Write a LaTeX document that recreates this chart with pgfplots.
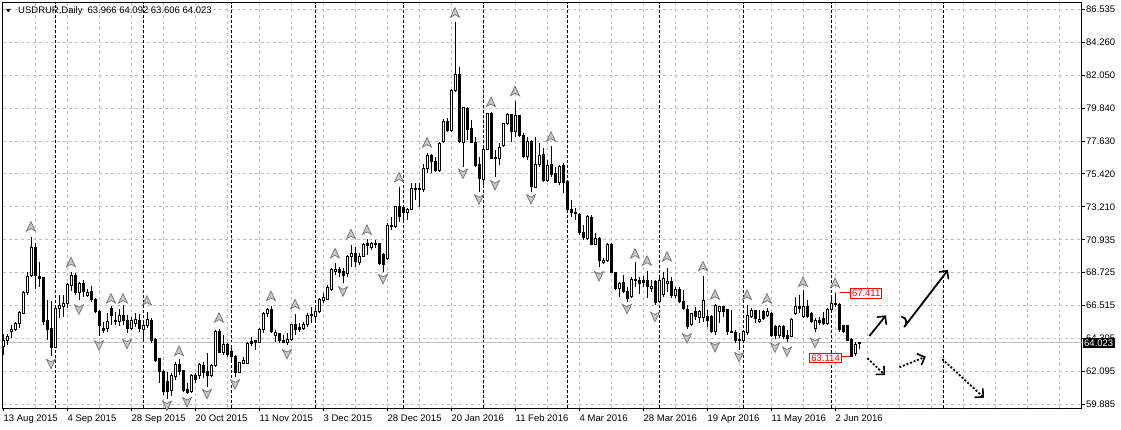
\documentclass[border=0pt]{standalone}
\usepackage{fontspec}
\setmainfont{Liberation Sans}
\usepackage{pgfplots}
\pgfplotsset{compat=1.18}
\usepackage{pgfplotstable}
\usetikzlibrary{arrows.meta}

\newcommand\lab{\fontsize{9.5}{11}\selectfont}
\definecolor{gridc}{HTML}{C0C0C0}

% candle mark: point at (x, close); 14.8197 pt per price unit
\pgfdeclareplotmark{candle}{%
  \pgfmathsetmacro\candH{(\cH-\cC)*14.8197}%
  \pgfmathsetmacro\candL{(\cL-\cC)*14.8197}%
  \pgfmathsetmacro\candO{(\cO-\cC)*14.8197}%
  \pgfmathtruncatemacro\isdoji{abs(\candO)<0.6}%
  \pgfsetlinewidth{1pt}%
  \pgfsetstrokecolor{black}%
  \pgfpathmoveto{\pgfqpoint{0pt}{\candH pt}}%
  \pgfpathlineto{\pgfqpoint{0pt}{\candL pt}}%
  \pgfusepathqstroke
  \ifnum\isdoji=1
    \pgfpathmoveto{\pgfqpoint{-1.5pt}{0pt}}\pgfpathlineto{\pgfqpoint{1.5pt}{0pt}}\pgfusepathqstroke
  \else
    \pgfpathrectanglecorners{\pgfqpoint{-1pt}{0pt}}{\pgfqpoint{1pt}{\candO pt}}%
    \ifdim\candO pt>0pt \pgfsetfillcolor{black}\else\pgfsetfillcolor{white}\fi
    \pgfusepathqfillstroke
  \fi
}
\pgfdeclareplotmark{fup}{%
  \pgfpathmoveto{\pgfqpoint{0pt}{5pt}}%
  \pgfpathlineto{\pgfqpoint{4.5pt}{-4.5pt}}%
  \pgfpathlineto{\pgfqpoint{0pt}{-2pt}}%
  \pgfpathlineto{\pgfqpoint{-4.5pt}{-4.5pt}}%
  \pgfpathclose
  \pgfusepathqfillstroke}
\pgfdeclareplotmark{fdown}{%
  \pgfpathmoveto{\pgfqpoint{0pt}{-5pt}}%
  \pgfpathlineto{\pgfqpoint{4.5pt}{4.5pt}}%
  \pgfpathlineto{\pgfqpoint{0pt}{2pt}}%
  \pgfpathlineto{\pgfqpoint{-4.5pt}{4.5pt}}%
  \pgfpathclose
  \pgfusepathqfillstroke}

\pgfplotstableread{
x o h l c
0 63.77 64.61 63.21 64.22
1 64.22 64.63 63.89 64.49
2 64.78 65.24 64.38 64.95
3 64.95 65.46 64.83 65.35
4 65.35 66.18 65.05 66.09
5 66.03 67.53 65.96 67.44
6 67.44 68.79 67.26 68.54
7 68.56 71.15 68.50 70.45
8 70.45 70.75 67.67 68.56
9 68.54 69.51 67.82 68.39
10 68.43 68.50 65.24 65.46
11 65.51 66.92 64.22 64.90
12 64.97 66.86 63.17 63.70
13 63.70 66.36 63.66 66.32
14 66.36 67.26 65.69 66.54
15 66.47 67.26 65.80 66.70
16 66.70 68.05 66.36 67.94
17 67.89 68.79 67.53 68.61
18 68.61 68.73 67.26 67.44
19 67.44 68.16 66.92 68.05
20 68.05 68.27 67.15 67.48
21 67.26 67.67 67.15 67.42
22 67.53 67.89 66.81 66.99
23 66.99 67.04 66.03 66.18
24 66.18 66.25 64.49 65.19
25 64.97 65.46 64.70 64.88
26 64.97 66.03 64.78 65.46
27 66.32 66.52 65.24 65.91
28 65.55 66.13 65.24 65.46
29 65.46 66.32 65.19 65.91
30 65.91 66.59 65.24 65.57
31 65.57 65.91 64.68 64.97
32 65.01 65.80 64.90 65.57
33 65.35 66.03 65.12 65.64
34 65.57 65.96 64.78 64.97
35 64.95 65.51 64.22 65.17
36 65.17 66.13 65.01 65.64
37 65.57 65.69 64.00 64.22
38 64.29 64.34 62.76 62.87
39 62.99 63.03 61.30 62.09
40 62.13 62.20 60.51 60.78
41 61.41 62.06 60.24 60.78
42 60.80 62.00 60.45 61.86
43 61.75 62.76 61.53 62.54
44 62.54 62.94 61.86 62.09
45 62.15 62.20 60.74 60.80
46 60.90 61.30 60.58 60.67
47 60.72 61.91 60.65 61.86
48 61.82 61.98 61.30 61.57
49 61.86 62.65 61.57 62.54
50 62.47 62.76 61.64 62.02
51 62.09 63.33 61.07 61.86
52 61.86 62.60 61.75 62.49
53 62.47 64.90 62.42 64.78
54 64.78 64.97 63.33 63.37
55 63.37 64.56 63.21 63.89
56 63.89 64.04 63.10 63.26
57 63.48 63.89 62.87 63.10
58 63.14 63.21 61.75 62.02
59 62.02 62.76 61.98 62.69
60 62.65 63.10 62.60 62.87
61 62.65 64.11 62.60 64.00
62 64.11 64.45 63.82 64.00
63 64.16 64.22 63.55 64.07
64 64.04 65.01 64.00 64.95
65 64.95 66.13 64.68 66.03
66 66.03 66.38 65.80 66.25
67 66.25 66.55 64.68 64.78
68 64.56 64.90 64.11 64.72
69 64.63 64.68 64.04 64.18
70 64.22 64.56 64.02 64.04
71 64.07 64.68 63.89 64.27
72 64.27 65.30 64.18 65.28
73 65.28 65.96 64.56 64.90
74 65.05 65.35 64.78 64.95
75 65.01 65.46 64.90 65.28
76 65.30 66.03 65.12 65.91
77 65.86 66.43 65.35 65.96
78 65.84 66.47 65.57 66.18
79 66.18 67.08 66.03 66.97
80 66.92 67.38 66.70 67.11
81 66.97 67.94 66.92 67.75
82 67.60 69.06 67.55 68.95
83 68.86 69.40 68.61 68.95
84 68.95 69.17 68.46 68.77
85 68.83 69.06 68.05 68.61
86 68.73 69.96 68.50 69.85
87 69.85 70.63 69.17 70.07
88 70.07 70.48 69.17 69.51
89 69.44 70.07 69.29 69.85
90 69.89 70.75 69.80 70.68
91 70.75 71.02 69.96 70.57
92 70.48 70.86 70.30 70.75
93 70.68 70.97 70.41 70.75
94 70.75 70.79 69.29 69.40
95 69.96 70.07 68.83 69.35
96 69.74 72.10 69.62 71.92
97 71.87 72.54 71.65 71.98
98 71.87 73.27 71.76 73.22
99 73.22 74.57 72.21 72.54
100 73.18 73.22 72.10 72.81
101 72.84 73.11 72.32 73.04
102 73.04 74.80 73.00 74.46
103 74.46 74.80 73.67 74.35
104 74.39 74.80 73.22 74.46
105 74.35 76.10 74.23 75.81
106 75.81 76.86 75.47 76.64
107 76.64 76.77 75.47 76.26
108 76.26 76.59 75.58 75.65
109 75.65 77.60 75.58 77.45
110 77.60 79.12 77.50 79.00
111 79.00 79.18 78.28 78.35
112 78.35 81.14 78.28 81.09
113 81.09 85.70 80.98 82.17
114 82.17 82.67 77.50 77.60
115 77.54 79.97 75.92 79.90
116 79.86 79.97 77.72 78.44
117 78.51 79.07 77.50 77.54
118 77.54 77.94 75.92 76.03
119 76.10 76.59 74.23 75.14
120 75.07 77.27 74.68 77.09
121 77.09 79.56 77.04 79.52
122 79.52 79.63 76.42 76.48
123 76.55 77.04 75.24 76.44
124 76.48 77.50 76.03 77.20
125 77.38 78.89 77.27 78.85
126 78.85 79.52 78.73 79.41
127 79.41 79.47 77.60 78.28
128 78.28 80.37 77.94 79.34
129 79.34 79.41 77.94 78.03
130 78.03 78.21 76.48 76.59
131 76.59 77.94 76.37 77.60
132 77.60 77.72 74.23 74.57
133 74.53 77.94 74.46 76.10
134 76.10 77.50 75.92 76.64
135 76.71 77.15 74.91 75.02
136 75.02 76.37 74.91 75.97
137 76.10 77.31 75.24 75.36
138 75.43 75.92 74.80 74.84
139 74.84 76.03 74.68 75.92
140 76.03 76.15 74.12 74.84
141 74.91 75.02 72.88 73.00
142 73.00 73.67 72.54 72.84
143 72.81 73.11 72.32 72.73
144 72.66 72.77 71.31 71.46
145 71.46 71.98 70.97 71.15
146 71.09 72.66 70.97 72.54
147 72.50 72.66 70.63 70.70
148 70.70 71.42 70.63 71.09
149 71.09 71.19 69.15 69.62
150 69.47 69.74 69.35 69.62
151 69.58 70.75 69.47 70.70
152 70.70 70.75 68.73 68.77
153 68.77 68.83 67.60 67.71
154 67.71 68.16 67.15 68.05
155 68.09 68.61 67.38 67.48
156 67.48 67.82 66.81 67.04
157 67.15 68.50 67.04 68.32
158 68.27 69.47 67.82 68.32
159 68.27 68.50 67.31 68.05
160 68.21 68.54 67.82 68.09
161 68.27 68.88 67.04 67.82
162 67.71 68.27 67.48 67.82
163 68.16 68.27 66.59 66.74
164 66.79 68.50 66.69 68.27
165 67.31 68.83 67.15 68.39
166 68.05 69.06 67.46 68.16
167 68.16 68.50 67.04 67.26
168 67.26 67.82 67.04 67.65
169 67.65 67.82 66.70 66.81
170 66.81 67.60 66.25 66.36
171 66.30 66.59 64.97 65.12
172 65.24 66.03 65.17 65.98
173 66.13 66.47 65.57 65.80
174 65.76 66.25 65.35 66.13
175 65.76 68.54 65.46 66.92
176 65.80 66.25 65.12 65.51
177 65.80 65.91 64.68 64.78
178 64.78 66.65 64.56 66.52
179 66.13 66.52 65.35 66.49
180 66.47 66.52 65.80 66.13
181 66.25 66.30 64.56 64.78
182 64.83 66.25 64.68 64.72
183 64.72 64.90 64.00 64.22
184 64.29 64.68 63.55 64.22
185 64.22 64.90 64.00 64.78
186 64.72 66.59 64.56 65.91
187 65.84 66.38 65.69 66.20
188 66.20 66.25 65.35 65.69
189 65.46 66.25 65.35 65.62
190 66.13 66.25 65.57 65.69
191 65.91 66.38 65.80 66.13
192 66.03 66.13 64.45 64.56
193 65.14 65.24 64.27 64.56
194 64.56 65.24 64.36 65.14
195 65.14 65.24 64.29 64.45
196 64.56 64.90 64.11 64.34
197 64.45 65.69 64.41 65.62
198 66.03 67.11 65.91 66.47
199 66.47 67.26 66.03 66.36
200 65.80 67.60 65.69 66.47
201 66.47 66.92 65.69 65.80
202 65.98 66.13 65.35 65.46
203 65.01 65.69 64.78 65.53
204 65.53 65.80 65.24 65.40
205 65.69 66.13 65.24 65.35
206 65.35 66.36 65.24 66.30
207 66.30 67.19 66.25 66.70
208 66.59 67.411 66.47 66.70
209 66.59 66.74 64.78 64.90
210 65.17 65.24 64.68 64.78
211 65.17 65.24 64.16 64.22
212 64.27 64.34 63.114 63.14
213 63.28 64.11 63.15 63.93
214 63.966 64.092 63.606 64.023
}\candles

\pgfplotstableread{
x y
7 71.87
17 69.47
27 67.02
30 67.02
36 66.88
44 63.48
54 65.73
67 67.19
73 66.63
83 70.07
87 71.36
91 71.65
99 75.20
106 77.54
113 86.31
122 80.28
128 81.01
137 77.94
158 70.05
161 69.57
166 69.85
175 69.20
178 67.28
186 67.26
191 67.01
200 68.14
208 68.07
}\fractup

\pgfplotstableread{
x y
12 62.62
19 66.30
24 63.87
31 63.97
41 59.80
46 60.04
51 60.59
58 61.24
71 63.28
85 67.51
95 68.35
115 75.45
119 73.72
123 74.68
132 73.73
149 68.54
156 66.33
163 65.80
171 64.35
178 63.75
184 63.08
193 63.72
196 63.45
203 64.04
}\fractdown

\begin{document}
\begin{tikzpicture}[
  hand/.style={black, line width=1.8pt, -{Straight Barb[length=6pt,width=12pt,line width=1.6pt]}},
  handdot/.style={hand, dash pattern=on 2pt off 1.8pt},
]
\begin{axis}[
  name=ax, scale only axis, width=1079pt, height=405.6pt,
  xmin=-0.125, xmax=269.625, ymin=59.615, ymax=86.984,
  axis line style={line width=1pt, black},
  xtick={0,16,32,48,64,80,96,112,128,144,160,176,192,208},
  xticklabels={13 Aug 2015,4 Sep 2015,28 Sep 2015,20 Oct 2015,11 Nov 2015,3 Dec 2015,28 Dec 2015,20 Jan 2016,11 Feb 2016,4 Mar 2016,28 Mar 2016,19 Apr 2016,11 May 2016,2 Jun 2016},
  ytick={59.885,62.105833,64.326667,66.5475,68.768333,70.989167,73.21,75.430833,77.651667,79.8725,82.093333,84.314167,86.535},
  yticklabels={59.885,62.095,64.305,66.515,68.725,70.935,73.210,75.420,77.630,79.840,82.050,84.260,86.535},
  ymajorgrids, grid style={gridc, line width=1pt, dash pattern=on 3pt off 3pt},
  xtick pos=left, ytick pos=right, yticklabel pos=right,
  tick align=outside, major tick length=3pt,
  tick style={black, line width=1pt},
  xticklabel style={font=\lab, anchor=north west, inner sep=0pt, yshift=-3pt, xshift=0.5pt},
  yticklabel style={font=\lab, anchor=west, inner sep=0pt, xshift=1.5pt},
  after end axis/.code={
    \node[fill=black, text=white, font=\lab, inner xsep=1.3pt, inner ysep=1.3pt, anchor=west]
      at ([xshift=1.2pt]axis cs:269.625,64.023) {64.023};
  },
]
% vertical grid
\pgfplotsinvokeforeach{8,16,24,32,40,48,56,64,72,80,88,96,104,112,120,128,136,144,152,160,168,176,184,192,200,208,216,224,232,240,248,256,264}{
  \draw[gridc, line width=1pt, dash pattern=on 3pt off 3pt] (axis cs:#1,59.615) -- (axis cs:#1,86.984);
}
% period separators
\pgfplotsinvokeforeach{13,35,57,78,100,120,141,164,185,207,235}{
  \draw[black, line width=1pt, dash pattern=on 3pt off 2pt] (axis cs:#1,59.615) -- (axis cs:#1,86.984);
}
% current price line
\draw[gridc, line width=1pt] (axis cs:-0.125,64.023) -- (axis cs:269.625,64.023);

% candles
\addplot[only marks, mark=candle,
  visualization depends on={\thisrow{o}\as\cO},
  visualization depends on={\thisrow{h}\as\cH},
  visualization depends on={\thisrow{l}\as\cL},
  visualization depends on={\thisrow{c}\as\cC},
] table[x=x, y=c] {\candles};

% fractals
\addplot[only marks, mark=fup, mark options={fill=black!22, draw=black!55, line width=0.7pt}] table[x=x,y=y] {\fractup};
\addplot[only marks, mark=fdown, mark options={fill=black!22, draw=black!55, line width=0.7pt}] table[x=x,y=y] {\fractdown};

% high / low labels
\draw[red, line width=1pt] (axis cs:209.25,67.411) -- (axis cs:211.75,67.411);
\node[draw=red, fill=white, text=red, line width=1pt, font=\lab, inner xsep=1.5pt, inner ysep=1.5pt, anchor=west, yshift=-0.8pt]
  at (axis cs:211.75,67.411) {67.411};
\draw[red, line width=1pt] (axis cs:212.25,63.114) -- (axis cs:209.7,63.114);
\node[draw=red, fill=white, text=red, line width=1pt, font=\lab, inner xsep=1.5pt, inner ysep=1.5pt, anchor=east, yshift=-1.5pt]
  at (axis cs:209.7,63.114) {63.114};

% hand-drawn scenario arrows
\draw[hand] (axis cs:216.6,64.49) -- (axis cs:220.75,65.89);
\draw[hand] (axis cs:224.6,65.81) .. controls (axis cs:226.2,65.72) and (axis cs:226.0,65.25) .. (axis cs:225.3,65.10) -- (axis cs:236.25,68.95);
\draw[handdot] (axis cs:216.1,62.99) -- (axis cs:220.5,61.86);
\draw[handdot] (axis cs:224.1,62.38) -- (axis cs:230.7,63.10);
\draw[handdot] (axis cs:234.8,62.94) -- (axis cs:245.25,60.33);

% header
\fill[black] ([xshift=3.5pt,yshift=-6.3pt]rel axis cs:0,1) -- ++(4.6pt,0pt) -- ++(-2.3pt,-3.3pt) -- cycle;
\node[anchor=west, font=\lab, inner sep=0pt] at ([xshift=15.5pt,yshift=-8pt]rel axis cs:0,1)
  {USDRUR,Daily\hspace{5pt}63.966 64.092 63.606 64.023};
\end{axis}
\pgfresetboundingbox
\useasboundingbox ([shift={(-2.5pt,-20.7pt)}]ax.south west) rectangle ([shift={(39.5pt,2.7pt)}]ax.north east);
\end{tikzpicture}
\end{document}
